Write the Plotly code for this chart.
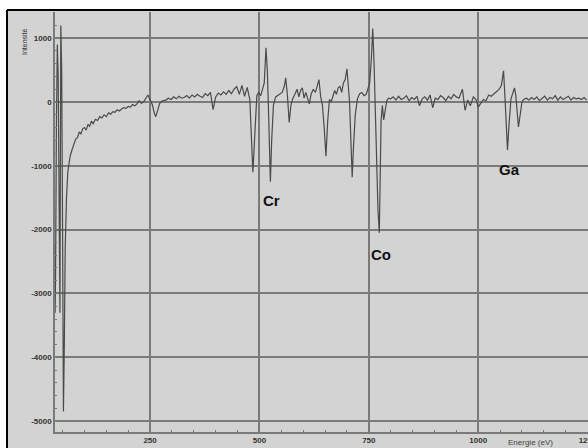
import plotly.graph_objects as go

# Energy (x) and signal (y)
energy = [33, 34, 36, 38, 40, 42, 44, 46, 48, 50, 52, 54, 56, 59, 62, 65, 68, 72, 76, 80,
          84, 88, 92, 96, 100, 104, 108, 112, 116, 120, 125, 130, 135, 140, 145, 150, 155, 160, 165, 170,
          175, 180, 185, 190, 195, 200, 205, 210, 215, 220, 225, 230, 235, 240, 245, 250, 255, 260, 263, 268,
          272, 278, 286, 292, 298, 304, 310, 316, 322, 328, 334, 340, 346, 352, 358, 364, 370, 376, 382, 388,
          394, 400, 406, 412, 418, 424, 430, 436, 442, 448, 454, 460, 466, 472, 478,
          485, 490, 494, 498, 503, 507, 511, 515, 518, 521, 525, 528, 532, 537, 542, 547, 552, 557, 560, 564,
          568, 572, 576, 581, 586, 590, 594, 598, 602, 606, 610, 614, 618, 623, 628, 632, 636, 640, 644, 648,
          652, 656, 660, 664, 668, 672, 676, 680, 684, 688, 692, 696, 700, 703, 706, 709, 712, 715, 719, 724,
          729, 734, 739, 744, 748, 752, 756, 759, 762, 765, 768, 771, 774, 776, 778, 781, 784, 787, 791, 795,
          800, 806, 812, 818, 824, 830, 836, 842, 848, 854, 860, 866, 872, 878, 884, 890, 896, 902, 908, 914,
          920, 926, 932, 938, 944, 950, 956, 964, 970, 976, 982, 989, 995, 1000, 1006, 1012, 1018, 1024, 1030, 1036,
          1042, 1048, 1053, 1058, 1061, 1064, 1067, 1071, 1075, 1079, 1083, 1086, 1089, 1092, 1096, 1100, 1104, 1110, 1116, 1122,
          1128, 1134, 1140, 1146, 1152, 1158, 1164, 1170, 1176, 1182, 1188, 1194, 1200, 1206, 1212, 1218, 1224, 1230, 1236, 1242,
          1248]
intensity = [-3300, -2700, -300, 900, 400, -1500, -3300, 1200, 500, -2000, -4850, -3800, -2300, -1500, -1100, -950, -830, -740, -660, -580,
             -560, -470, -500, -420, -400, -440, -350, -380, -300, -340, -270, -290, -230, -250, -200, -230, -170, -190, -150, -160,
             -120, -140, -110, -90, -100, -70, -80, -40, -60, -30, 20, -20, 0, 60, 110, 40, -40, -180, -230, -120,
             -20, 20, 30, 60, 40, 80, 50, 90, 60, 70, 100, 60, 110, 80, 120, 90, 70, 130, 100, 150,
             -120, 80, 140, 110, 160, 120, 180, 130, 200, 240, 120, 260, 90, 230, 40,
             -1100, -300, 100, 150, 100, 200, 300, 850, 500, -200, -1250, -600, -50, 80, 100, 120, 150, 250, 380, 100,
             -320, -50, 50, 120, 200, 80, 180, 220, 60, 150, 40, -30, 120, 200, 150, 250, 350, 80, -50, -400,
             -850, -300, 40, 0, 100, 180, 120, 220, 250, 150, 300, 350, 520, 250, 0, -600, -1180, -700, -200, 50,
             130, 150, 100, 120, 200, 300, 700, 1150, 600, -200, -900, -1700, -2050, -1200, -300, -50, -280, -150, 20, 60,
             50, 80, 30, 90, 40, 60, 100, 20, 70, 40, 90, -60, 50, 80, 30, 110, -90, 60, 40, 100,
             70, 20, 90, 50, 120, 80, 60, 200, -130, 30, -60, 80, 40, -80, -20, 40, 20, 110, 90, 130,
             160, 200, 260, 490, 100, -400, -750, -300, 50, 140, 220, 100, -200, -390, -200, 0, 40, 60, 30, 70,
             40, 80, 20, 60, 90, 30, 70, 50, 100, 30, 80, 40, 60, 90, 30, 70, 50, 60, 40, 70,
             30]

x_ticks = [250, 500, 750, 1000, 1250]
y_ticks = [1000, 0, -1000, -2000, -3000, -4000, -5000]
labels = [("Cr", 527, -1540), ("Co", 778, -2390), ("Ga", 1072, -1050)]

W, H = 588, 448
ml, mr, mt, mb = 55, 0, 12, 16
pw, ph = W - ml - mr, H - mt - mb

def px(xp):
    return (xp - ml) / pw

def py(yp):
    return (H - mb - yp) / ph

fig = go.Figure()
fig.add_trace(go.Scatter(x=energy, y=intensity, mode="lines",
                         line=dict(color="#4a4a4a", width=1.2), showlegend=False))

for txt, xv, yv in labels:
    fig.add_annotation(x=xv, y=yv, text="<b>%s</b>" % txt, showarrow=False,
                       font=dict(family="Liberation Sans", size=15, color="#111"))

tickfont = dict(family="Liberation Sans", size=8, color="#333")
fig.update_xaxes(range=[32.7, 1251], tickmode="array", tickvals=x_ticks,
                 ticktext=["<b>%d</b>" % v for v in x_ticks], tickfont=tickfont,
                 showgrid=True, gridcolor="#7a7a7a", gridwidth=1.5,
                 showline=True, linecolor="#7a7a7a", linewidth=1.5,
                 ticks="inside", ticklen=3, tickcolor="#7a7a7a",
                 minor=dict(dtick=50, tick0=0, ticks="inside", ticklen=2, tickcolor="#7a7a7a", showgrid=False),
                 zeroline=False, ticklabeloverflow="allow", automargin=False, fixedrange=True)
fig.update_yaxes(range=[-5170, 1410], tickmode="array", tickvals=y_ticks,
                 ticktext=["<b>%d</b>" % v for v in y_ticks], tickfont=tickfont,
                 showgrid=True, gridcolor="#7a7a7a", gridwidth=1.5,
                 showline=True, linecolor="#7a7a7a", linewidth=1.5,
                 ticks="inside", ticklen=3, tickcolor="#7a7a7a",
                 minor=dict(dtick=200, tick0=0, ticks="inside", ticklen=2, tickcolor="#7a7a7a", showgrid=False),
                 zeroline=False, ticklabeloverflow="allow", automargin=False, fixedrange=True)

shapes = [
    dict(type="rect", xref="paper", yref="paper", x0=px(0), x1=px(7), y0=py(H), y1=py(0),
         fillcolor="white", line=dict(width=0), layer="below"),
    dict(type="rect", xref="paper", yref="paper", x0=px(0), x1=px(W), y0=py(10), y1=py(0),
         fillcolor="white", line=dict(width=0), layer="below"),
    dict(type="line", xref="paper", yref="paper", x0=px(7), x1=px(W), y0=py(10), y1=py(10),
         line=dict(color="black", width=2)),
    dict(type="line", xref="paper", yref="paper", x0=px(7), x1=px(7), y0=py(10), y1=py(H),
         line=dict(color="black", width=2)),
]

fig.add_annotation(xref="paper", yref="paper", x=px(19), y=py(26), text="Intensité",
                   textangle=-90, showarrow=False,
                   font=dict(family="Liberation Sans", size=7, color="#333"))
fig.add_annotation(xref="paper", yref="paper", x=px(555), y=py(449), text="Energie (eV)",
                   showarrow=False, font=dict(family="Liberation Sans", size=8, color="#444"))

fig.update_layout(width=W, height=H, margin=dict(l=ml, r=mr, t=mt, b=mb, autoexpand=False),
                  paper_bgcolor="#d3d3d3", plot_bgcolor="#d3d3d3", shapes=shapes)

fig.write_html("out.html")
